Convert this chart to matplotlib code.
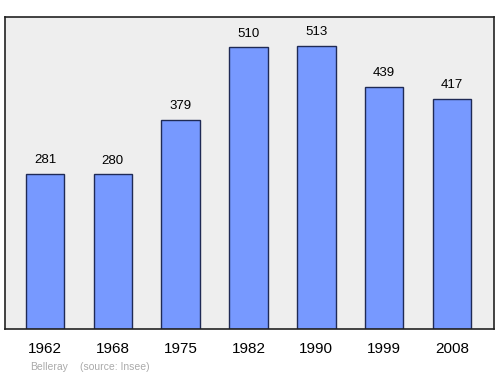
import matplotlib
matplotlib.use("Agg")
from matplotlib import pyplot as plt

years = ["1962", "1968", "1975", "1982", "1990", "1999", "2008"]
population = [281, 280, 379, 510, 513, 439, 417]

plt.rcParams["font.family"] = ["Liberation Sans", "DejaVu Sans"]

fig = plt.figure(figsize=(5, 3.74), dpi=100)
ax = fig.add_axes([0.01, 0.12, 0.978, 0.8345])
ax.set_facecolor("#eeeeee")

pos = list(range(len(years)))
ax.bar(pos, population, width=0.57, color="#7799ff", edgecolor="#1f2a55", linewidth=1)
for x, v in zip(pos, population):
    ax.text(x, v + 14, str(v), ha="center", va="bottom", fontsize=9.5)

ax.set_xlim(-0.59, 6.62)
ax.set_ylim(0, 565)
ax.set_xticks(pos)
ax.set_xticklabels(years, fontsize=11)
ax.tick_params(axis="x", length=0, pad=9)
ax.set_yticks([])
for s in ax.spines.values():
    s.set_linewidth(1.2)
    s.set_color("#222222")

fig.text(0.06, 0.01, "Belleray", fontsize=7.5, color="#aaaaaa")
fig.text(0.16, 0.01, "(source: Insee)", fontsize=7.5, color="#aaaaaa")

fig.savefig("out.png", dpi=100)
